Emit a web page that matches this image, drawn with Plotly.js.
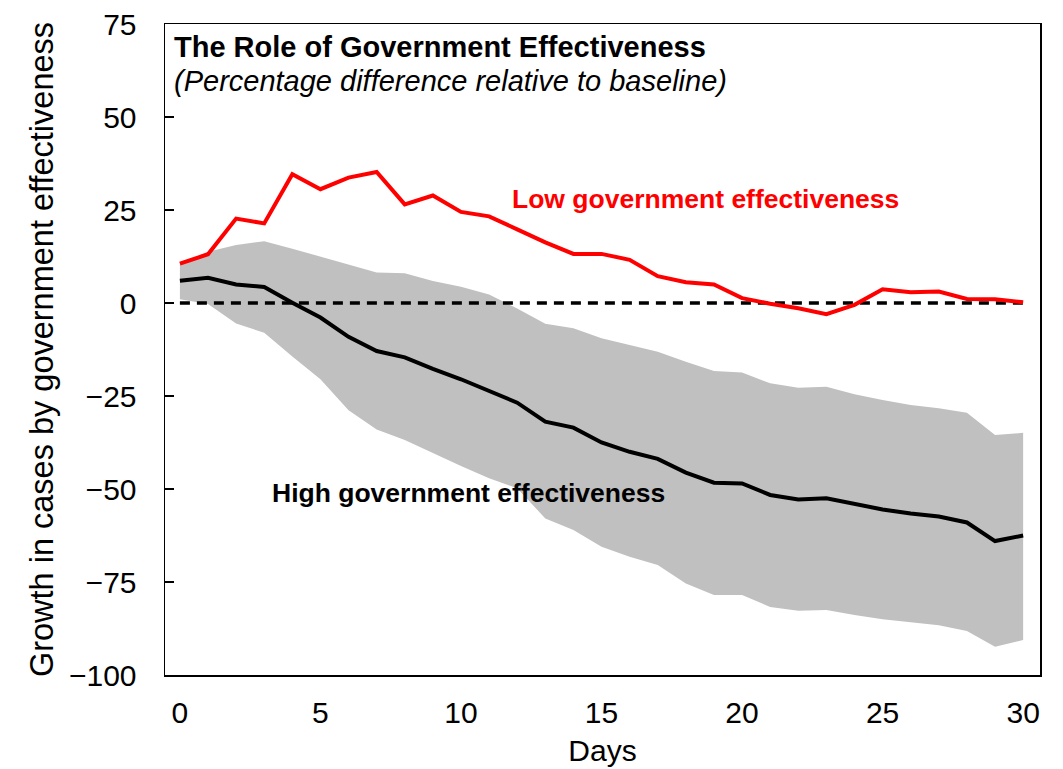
<!DOCTYPE html>
<html>
<head>
<meta charset="utf-8">
<script src="https://cdn.plot.ly/plotly-3.0.1.min.js"></script>
<style>html,body{margin:0;padding:0;background:#fff;}#chart{width:1063px;height:769px;}</style>
</head>
<body>
<div id="chart"></div>
<script>
const days = [0,1,2,3,4,5,6,7,8,9,10,11,12,13,14,15,16,17,18,19,20,21,22,23,24,25,26,27,28,29,30];
const lowEffectiveness = [10.6,13.1,22.7,21.4,34.6,30.6,33.7,35.2,26.5,28.9,24.5,23.3,19.8,16.3,13.2,13.2,11.6,7.2,5.6,5.0,1.3,-0.2,-1.4,-3.0,-0.5,3.7,2.9,3.1,1.1,1.0,0.2];
const highEffectiveness = [6.0,6.8,5.0,4.3,0.1,-3.9,-9.1,-12.9,-14.6,-17.7,-20.5,-23.6,-26.8,-31.9,-33.5,-37.5,-40.0,-41.9,-45.6,-48.3,-48.5,-51.6,-52.8,-52.5,-54.0,-55.5,-56.6,-57.4,-59.0,-64.0,-62.5];
const highUpper = [10.3,13.8,15.6,16.6,14.6,12.4,10.2,8.2,8.0,5.9,4.4,2.3,-1.5,-5.6,-6.8,-9.5,-11.3,-13.1,-15.8,-18.3,-18.7,-21.6,-22.8,-22.5,-24.5,-26.1,-27.4,-28.3,-29.5,-35.5,-34.9];
const highLower = [1.0,-0.3,-5.5,-8.0,-14.4,-20.5,-28.8,-34.0,-36.8,-40.4,-43.8,-47.1,-49.8,-57.9,-61.0,-65.5,-68.2,-70.4,-75.4,-78.5,-78.5,-81.7,-82.7,-82.5,-83.9,-85.0,-85.9,-86.6,-88.2,-92.4,-90.6];
const baseline = days.map(() => 0);
const yTicks = [75,50,25,0,-25,-50,-75,-100];
const xTicks = [0,5,10,15,20,25,30];

const FONT = "Liberation Sans, Arial, sans-serif";

const traces = [
  {x: days, y: highLower, type: 'scatter', mode: 'lines', line: {width: 0, color: 'rgba(0,0,0,0)'}, hoverinfo: 'skip', showlegend: false},
  {x: days, y: highUpper, type: 'scatter', mode: 'lines', fill: 'tonexty', fillcolor: '#c0c0c0', line: {width: 0, color: 'rgba(0,0,0,0)'}, hoverinfo: 'skip', showlegend: false},
  {x: days, y: baseline, type: 'scatter', mode: 'lines', line: {color: '#000', width: 3.5, dash: '10px,7px'}, showlegend: false},
  {x: days, y: lowEffectiveness, type: 'scatter', mode: 'lines', name: 'Low government effectiveness', line: {color: '#ff0000', width: 4}, showlegend: false},
  {x: days, y: highEffectiveness, type: 'scatter', mode: 'lines', name: 'High government effectiveness', line: {color: '#000000', width: 4}, showlegend: false}
];

const layout = {
  width: 1063, height: 769,
  paper_bgcolor: '#fff', plot_bgcolor: '#fff',
  margin: {l: 165, r: 23, t: 24, b: 94},
  font: {family: FONT, color: '#000'},
  showlegend: false,
  xaxis: {
    range: [-0.53, 30.6], tickvals: xTicks, ticks: '', showgrid: false, zeroline: false,
    showline: true, linecolor: '#000', linewidth: 1.5, mirror: true,
    tickfont: {size: 30, family: FONT}, ticklabelstandoff: 10,
    title: {text: 'Days', font: {size: 30, family: FONT}, standoff: 12}
  },
  yaxis: {
    range: [-100, 75], tickvals: yTicks, ticks: 'inside', ticklen: 9, tickwidth: 1.5, tickcolor: '#000',
    showgrid: false, zeroline: false, showline: true, linecolor: '#000', linewidth: 1.5, mirror: true,
    tickfont: {size: 30, family: FONT}, ticklabelstandoff: 21,
    title: {text: 'Growth in cases by government effectiveness', font: {size: 32.5, family: FONT}, standoff: 5}
  },
  annotations: [
    {xref: 'paper', yref: 'paper', x: 0.008, y: 0.9647, xanchor: 'left', yanchor: 'middle', align: 'left', showarrow: false,
     text: '<b>The Role of Government Effectiveness</b>',
     font: {size: 29, family: FONT, color: '#000'}},
    {xref: 'paper', yref: 'paper', x: 0.008, y: 0.9124, xanchor: 'left', yanchor: 'middle', align: 'left', showarrow: false,
     text: '<i>(Percentage difference relative to baseline)</i>',
     font: {size: 29, family: FONT, color: '#000'}},
    {xref: 'x', yref: 'y', x: 18.7, y: 28, xanchor: 'center', yanchor: 'middle', showarrow: false,
     text: '<b>Low government effectiveness</b>', font: {size: 26.5, family: FONT, color: '#ff0000'}},
    {xref: 'x', yref: 'y', x: 10.25, y: -51, xanchor: 'center', yanchor: 'middle', showarrow: false,
     text: '<b>High government effectiveness</b>', font: {size: 26.5, family: FONT, color: '#000'}}
  ]
};

Plotly.newPlot('chart', traces, layout, {displayModeBar: false, staticPlot: true});
</script>
</body>
</html>
